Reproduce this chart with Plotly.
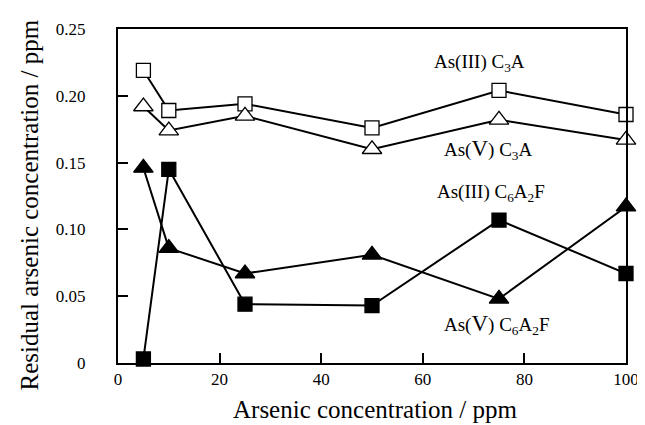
import plotly.graph_objects as go

# ---- data ----
arsenic_ppm = [5, 10, 25, 50, 75, 100]
as3_c3a = [0.219, 0.189, 0.194, 0.176, 0.204, 0.186]
as5_c3a = [0.192, 0.174, 0.185, 0.160, 0.182, 0.167]
as3_c6a2f = [0.003, 0.145, 0.044, 0.043, 0.107, 0.067]
as5_c6a2f = [0.146, 0.086, 0.067, 0.081, 0.048, 0.117]

y_tick_vals = [0, 0.05, 0.10, 0.15, 0.20, 0.25]
y_tick_text = ["0", "0.05", "0.10", "0.15", "0.20", "0.25"]
x_tick_vals = [0, 20, 40, 60, 80, 100]

FONT = "Liberation Serif"

L, R, T, B = 110, 27, 13.5, 70
W, H = 645, 425
pw, ph = W - L - R, H - T - B

fig = go.Figure()

def add_series(y, symbol, size, filled):
    fig.add_trace(go.Scatter(
        x=arsenic_ppm, y=y, mode="lines+markers",
        line=dict(color="black", width=2),
        marker=dict(symbol=symbol, size=size,
                    color="black" if filled else "white",
                    line=dict(color="black", width=1.3)),
        showlegend=False, cliponaxis=False,
    ))

add_series(as3_c3a, "square", 14, False)
add_series(as5_c3a, "triangle-up", 17, False)
add_series(as5_c6a2f, "triangle-up", 17, True)
add_series(as3_c6a2f, "square", 14, True)

V = '<span style="font-size:23px">V</span>'
labels = [
    ("As(III) C<sub>3</sub>A", 71.2, 0.2245),
    ("As(" + V + ") C<sub>3</sub>A", 72.8, 0.1596),
    ("As(III) C<sub>6</sub>A<sub>2</sub>F", 73.4, 0.1274),
    ("As(" + V + ") C<sub>6</sub>A<sub>2</sub>F", 74.6, 0.0286),
]
annotations = [
    dict(text=t, x=x, y=y, xref="x", yref="y", showarrow=False,
         font=dict(family=FONT, size=19, color="black"),
         xanchor="center", yanchor="middle")
    for t, x, y in labels
]
annotations.append(dict(
    text="Arsenic concentration / ppm",
    x=(367 - L) / pw, y=(H - B - 403) / ph,
    xref="paper", yref="paper", showarrow=False,
    font=dict(family=FONT, size=25, color="black"),
    xanchor="center", yanchor="middle"))
annotations.append(dict(
    text="Residual arsenic concentration / ppm",
    x=(22 - L) / pw, y=(H - B - 194) / ph,
    xref="paper", yref="paper", showarrow=False, textangle=-90,
    font=dict(family=FONT, size=25, color="black"),
    xanchor="center", yanchor="middle"))

fig.update_layout(
    width=W, height=H,
    margin=dict(l=L, r=R, t=T, b=B),
    paper_bgcolor="white", plot_bgcolor="white",
    font=dict(family=FONT, size=17, color="black"),
    annotations=annotations,
    xaxis=dict(range=[0, 100], tickvals=x_tick_vals, ticks="inside",
               ticklen=10, tickwidth=2, tickcolor="black",
               showline=True, linecolor="black", linewidth=2, mirror=True,
               showgrid=False, zeroline=False, ticklabelstandoff=0,
               tickfont=dict(family=FONT, size=17, color="black")),
    yaxis=dict(range=[0, 0.25], tickvals=y_tick_vals, ticktext=y_tick_text,
               ticks="inside", ticklen=10, tickwidth=2, tickcolor="black",
               showline=True, linecolor="black", linewidth=2, mirror=True,
               showgrid=False, zeroline=False, ticklabelstandoff=27,
               tickfont=dict(family=FONT, size=17, color="black")),
)

fig.write_html("out.html")
